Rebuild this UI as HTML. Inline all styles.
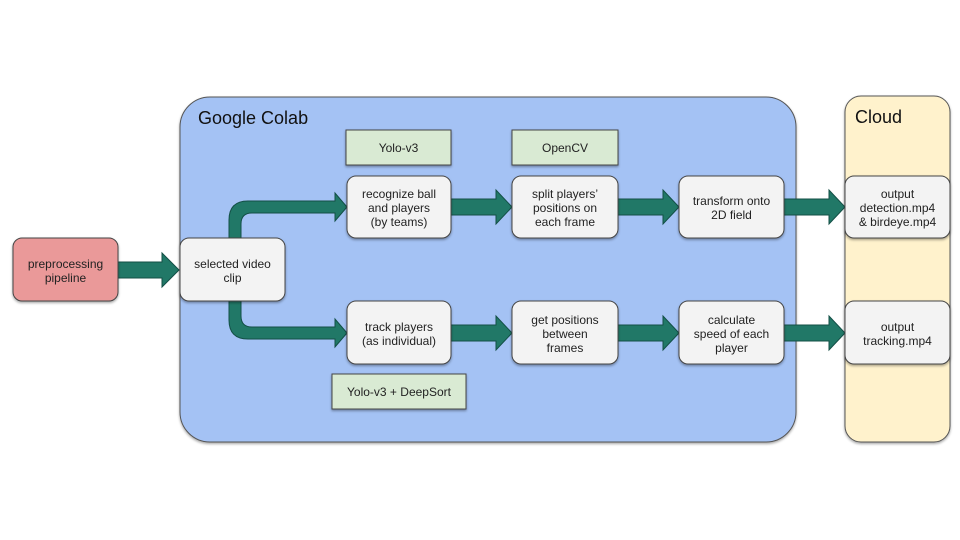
<!DOCTYPE html>
<html><head><style>
body{margin:0;background:#fff;}
svg{display:block;font-family:"Liberation Sans",Arial,sans-serif;}
</style></head><body>
<svg width="960" height="540" viewBox="0 0 960 540">
<defs>
<filter id="sh" x="-10%" y="-10%" width="130%" height="140%"><feDropShadow dx="0" dy="1.5" stdDeviation="1.2" flood-color="#000" flood-opacity="0.35"/></filter>
</defs>
<rect x="180" y="97" width="616" height="345" rx="30" fill="#a4c2f4" stroke="#555" stroke-width="1" filter="url(#sh)"/>
<text x="198" y="124" font-size="18" fill="#111">Google Colab</text>
<rect x="845" y="96" width="105" height="346" rx="16" fill="#fff2cc" stroke="#555" stroke-width="1" filter="url(#sh)"/>
<text x="855" y="123" font-size="18" fill="#111">Cloud</text>

<g fill="#d9ead3" stroke="#444" stroke-width="1" filter="url(#sh)">
<rect x="346" y="130" width="105" height="35"/>
<rect x="512" y="130" width="106" height="35"/>
<rect x="332" y="374" width="134" height="35"/>
</g>
<g font-size="12" fill="#222" text-anchor="middle">
<text x="398.5" y="152">Yolo-v3</text>
<text x="565" y="152">OpenCV</text>
<text x="399" y="396">Yolo-v3 + DeepSort</text>
</g>

<!-- arrows -->
<g fill="#217867" stroke="#134f46" stroke-width="1">
<path d="M118 262 H162 V253 L179 270 L162 287 V278 H118 Z"/>
<path d="M229 238 V220 Q229 201 248 201 H335 V193 L347 207 L335 221 V213 H252 Q241 213 241 224 V238 Z"/>
<path d="M229 301 V320 Q229 339 248 339 H335 V347 L347 333 L335 319 V327 H252 Q241 327 241 316 V301 Z"/>
<path d="M451 199 H496 V190 L512 207 L496 224 V215 H451 Z"/>
<path d="M618 199 H663 V190 L679 207 L663 224 V215 H618 Z"/>
<path d="M784 199 H829 V190 L845 207 L829 224 V215 H784 Z"/>
<path d="M451 325 H496 V316 L512 333 L496 350 V341 H451 Z"/>
<path d="M618 325 H663 V316 L679 333 L663 350 V341 H618 Z"/>
<path d="M784 325 H829 V316 L845 333 L829 350 V341 H784 Z"/>
</g>

<g stroke="#444" stroke-width="1" filter="url(#sh)">
<rect x="13" y="238" width="105" height="63" rx="9" fill="#ea9999"/>
<rect x="180" y="238" width="105" height="63" rx="9" fill="#f3f3f3"/>
<rect x="347" y="176" width="104" height="62" rx="9" fill="#f3f3f3"/>
<rect x="512" y="176" width="106" height="62" rx="9" fill="#f3f3f3"/>
<rect x="679" y="176" width="105" height="62" rx="9" fill="#f3f3f3"/>
<rect x="845" y="176" width="105" height="62" rx="9" fill="#f3f3f3"/>
<rect x="347" y="301" width="104" height="63" rx="9" fill="#f3f3f3"/>
<rect x="512" y="301" width="106" height="63" rx="9" fill="#f3f3f3"/>
<rect x="679" y="301" width="105" height="63" rx="9" fill="#f3f3f3"/>
<rect x="845" y="301" width="105" height="63" rx="9" fill="#f3f3f3"/>
</g>
<g font-size="12" fill="#222" text-anchor="middle">
<text x="65.5" y="268">preprocessing</text><text x="65.5" y="282">pipeline</text>
<text x="232.5" y="268">selected video</text><text x="232.5" y="282">clip</text>
<text x="399" y="198">recognize ball</text><text x="399" y="212">and players</text><text x="399" y="226">(by teams)</text>
<text x="565" y="198">split players’</text><text x="565" y="212">positions on</text><text x="565" y="226">each frame</text>
<text x="731.5" y="205">transform onto</text><text x="731.5" y="219">2D field</text>
<text x="897.5" y="198">output</text><text x="897.5" y="212">detection.mp4</text><text x="897.5" y="226">&amp; birdeye.mp4</text>
<text x="399" y="331">track players</text><text x="399" y="345">(as individual)</text>
<text x="565" y="324">get positions</text><text x="565" y="338">between</text><text x="565" y="352">frames</text>
<text x="731.5" y="324">calculate</text><text x="731.5" y="338">speed of each</text><text x="731.5" y="352">player</text>
<text x="897.5" y="331">output</text><text x="897.5" y="345">tracking.mp4</text>
</g>
</svg>
</body></html>
